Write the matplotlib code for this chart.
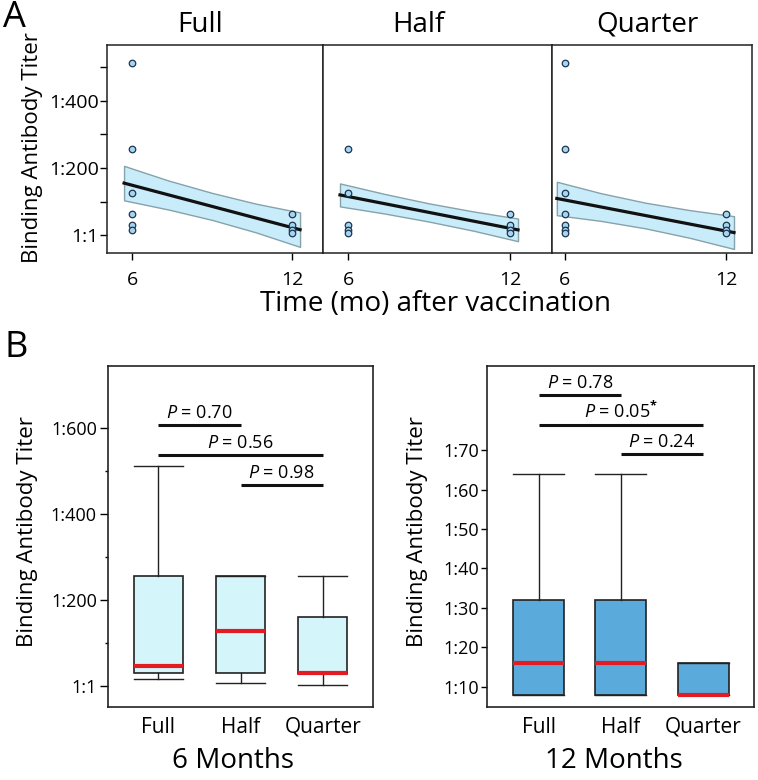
import matplotlib
matplotlib.use('Agg')
import matplotlib.pyplot as plt

plt.rcParams['font.family'] = ['Open Sans', 'DejaVu Sans']
plt.rcParams['mathtext.fontset'] = 'custom'
plt.rcParams['mathtext.it'] = 'Open Sans:italic'
plt.rcParams['mathtext.rm'] = 'Open Sans'
plt.rcParams['mathtext.bf'] = 'Open Sans:bold'

# --- Panel A data: titers at 6 and 12 months ---
groups = ['Full', 'Half', 'Quarter']
full_6mo = [512, 256, 128, 64, 32, 16]
full_12mo = [64, 32, 16, 8]
half_6mo = [256, 128, 32, 16, 8]
half_12mo = [64, 32, 16, 8]
quarter_6mo = [512, 256, 128, 64, 32, 16, 8]
quarter_12mo = [64, 32, 16, 8]

# fitted line + confidence band
fit_x = [5.7, 12.3]
full_fit = [156, 18]
half_fit = [121, 17.5]
quarter_fit = [110.5, 9.5]
band_x = [5.7, 7.35, 9.0, 10.65, 12.3]
full_upper = [207, 164, 127, 95, 69]
full_lower = [105, 78, 47, 10, -33]
half_upper = [155, 124, 96, 72, 51]
half_lower = [87, 66, 42, 15, -16]
quarter_upper = [160, 126, 98, 76, 58]
quarter_lower = [61, 44, 22, -6, -39]

# --- Panel B data: box summaries ---
six_whislo = [16, 8, 4]
six_q1 = [32, 32, 28]
six_med = [48, 128, 32]
six_q3 = [256, 256, 160]
six_whishi = [512, 256, 256]

twelve_whislo = [8, 8, 8]
twelve_q1 = [8, 8, 8]
twelve_med = [16, 16, 8]
twelve_q3 = [32, 32, 16]
twelve_whishi = [64, 64, 16]

pairs = [(1, 2), (1, 3), (2, 3)]
six_p = ['0.70', '0.56', '0.98']
six_bar_y = [606, 538, 468]
twelve_p = ['0.78', '0.05', '0.24']
twelve_star = [False, True, False]
twelve_bar_y = [83.9, 76.3, 69]

W, H = 758, 780
fig = plt.figure(figsize=(W / 100, H / 100), dpi=100)


def px_box(x0, y0, x1, y1):
    return [x0 / W, 1 - y1 / H, (x1 - x0) / W, (y1 - y0) / H]


def px_pt(x, y):
    return x / W, 1 - y / H


def style_spines(ax, lw=1.1):
    for s in ax.spines.values():
        s.set_linewidth(lw)
        s.set_color('#222222')


# ---------------- Panel A ----------------
facets = [
    (107, 323, 5.06, 13.16, full_6mo, full_12mo, full_fit, full_upper, full_lower),
    (323, 552, 5.07, 13.56, half_6mo, half_12mo, half_fit, half_upper, half_lower),
    (552, 752, 5.52, 12.97, quarter_6mo, quarter_12mo, quarter_fit, quarter_upper, quarter_lower),
]
title_x = [200, 418, 647]

for i, (x0, x1, lo, hi, v6, v12, fit, up, low) in enumerate(facets):
    ax = fig.add_axes(px_box(x0, 45, x1, 253))
    ax.fill_between(band_x, low, up, facecolor='#c9ecfa', edgecolor='#86a2aa', lw=1.0, zorder=1)
    ax.plot(fit_x, fit, color='#111111', lw=2.3, zorder=2)
    ax.scatter([6] * len(v6), v6, s=22, facecolor='#a6d5ef', edgecolor='#1c3550', lw=0.9, zorder=3)
    ax.scatter([12] * len(v12), v12, s=22, facecolor='#a6d5ef', edgecolor='#1c3550', lw=0.9, zorder=3)
    ax.set_xlim(lo, hi)
    ax.set_ylim(-51, 565)
    ax.set_xticks([6, 12])
    ax.tick_params(axis='x', length=5, width=1, pad=8, labelsize=14)
    if i == 0:
        ax.set_yticks([1, 200, 400])
        ax.set_yticklabels(['1:1', '1:200', '1:400'])
        ax.set_yticks([100, 300, 500], minor=True)
        ax.tick_params(axis='y', which='both', length=5, width=1, pad=1, labelsize=14)
    else:
        ax.set_yticks([])
    style_spines(ax)
    fig.text(*px_pt(title_x[i], 32), groups[i], fontsize=20, ha='center', va='baseline')

fig.text(*px_pt(33, 148), 'Binding Antibody Titer', fontsize=16, rotation=90, ha='center', va='center')
fig.text(*px_pt(435, 311), 'Time (mo) after vaccination', fontsize=20, ha='center', va='baseline')
fig.text(*px_pt(3, 27), 'A', fontsize=26, ha='left', va='baseline')
fig.text(*px_pt(4, 357), 'B', fontsize=26, ha='left', va='baseline')


# ---------------- Panel B ----------------
def box_stats(whislo, q1, med, q3, whishi):
    return [dict(whislo=a, q1=b, med=c, q3=d, whishi=e, label=g)
            for a, b, c, d, e, g in zip(whislo, q1, med, q3, whishi, groups)]


def draw_boxes(ax, stats, face, width):
    ax.bxp(stats, positions=[1, 2, 3], widths=width, capwidths=width, patch_artist=True,
           showfliers=False,
           boxprops=dict(facecolor=face, edgecolor='#222222', lw=1.2),
           medianprops=dict(color='#e31b23', lw=3.0, solid_capstyle='butt'),
           whiskerprops=dict(color='#222222', lw=1.0),
           capprops=dict(color='#222222', lw=1.0))


def draw_pvals(ax, ys, labels, stars):
    for (a, b), y, lab, st in zip(pairs, ys, labels, stars):
        ax.plot([a, b], [y, y], color='#111111', lw=2.2, solid_capstyle='butt')
        txt = r'$P$ = ' + lab + (r'$^{\mathbf{*}}$' if st else '')
        ax.annotate(txt, xy=((a + b) / 2, y), xytext=(0, 5), textcoords='offset points',
                    ha='center', va='baseline', fontsize=13)


# 6 months
axL = fig.add_axes(px_box(108, 366, 373, 707))
draw_boxes(axL, box_stats(six_whislo, six_q1, six_med, six_q3, six_whishi), '#d4f6fb', 0.6)
draw_pvals(axL, six_bar_y, six_p, [False, False, False])
axL.set_xlim(0.39, 3.61)
axL.set_ylim(-48, 744)
axL.set_yticks([1, 200, 400, 600])
axL.set_yticklabels(['1:1', '1:200', '1:400', '1:600'])
axL.set_yticks([100, 300, 500], minor=True)
axL.tick_params(axis='y', which='major', length=6, width=1, pad=2, labelsize=13)
axL.tick_params(axis='y', which='minor', length=2.5, width=1)
axL.tick_params(axis='x', length=0, pad=7, labelsize=15)
style_spines(axL, 1.2)
fig.text(*px_pt(28, 532), 'Binding Antibody Titer', fontsize=16, rotation=90, ha='center', va='center')
fig.text(*px_pt(233, 768), '6 Months', fontsize=20, ha='center', va='baseline')

# 12 months
axR = fig.add_axes(px_box(487, 366, 754, 707))
draw_boxes(axR, box_stats(twelve_whislo, twelve_q1, twelve_med, twelve_q3, twelve_whishi), '#5aaadb', 0.62)
draw_pvals(axR, twelve_bar_y, twelve_p, twelve_star)
axR.set_xlim(0.37, 3.62)
axR.set_ylim(4.9, 91.3)
axR.set_yticks([10, 20, 30, 40, 50, 60, 70])
axR.set_yticklabels(['1:10', '1:20', '1:30', '1:40', '1:50', '1:60', '1:70'])
axR.tick_params(axis='y', length=4, width=1, pad=1.5, labelsize=13)
axR.tick_params(axis='x', length=0, pad=7, labelsize=15)
style_spines(axR, 1.2)
fig.text(*px_pt(418, 532), 'Binding Antibody Titer', fontsize=16, rotation=90, ha='center', va='center')
fig.text(*px_pt(614, 768), '12 Months', fontsize=20, ha='center', va='baseline')

fig.savefig('out.png', dpi=100)
